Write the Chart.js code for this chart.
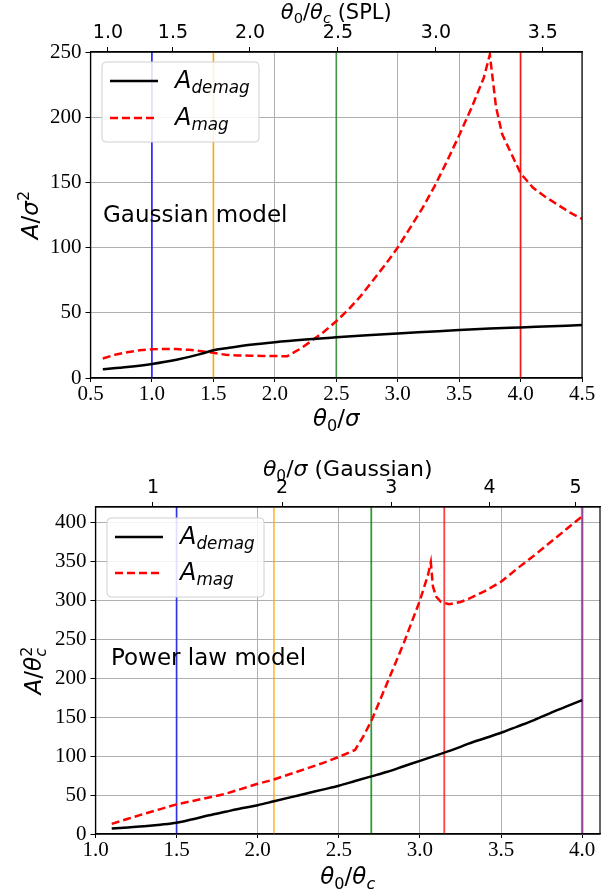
<!DOCTYPE html>
<html>
<head>
<meta charset="utf-8">
<script src="https://cdn.jsdelivr.net/npm/chart.js"></script>
<style>
  html, body { margin: 0; padding: 0; background: #fff; }
  #wrap { position: relative; width: 616px; height: 889px; }
  canvas { position: absolute; left: 0; }
  #chartOne { top: 0; }
  #chartTwo { top: 445px; }
</style>
</head>
<body>
<div id="wrap">
  <canvas id="chartOne" width="616" height="445"></canvas>
  <canvas id="chartTwo" width="616" height="444"></canvas>
</div>
<script>
// ---- Gaussian model (top panel), x = theta0/sigma
const gaussDemagX = [0.6, 0.8, 1.0, 1.2, 1.4, 1.5, 1.6, 1.8, 2.0, 2.25, 2.5, 2.75, 3.0, 3.25, 3.5, 3.75, 4.0, 4.25, 4.5];
const gaussDemag  = [6.7, 8.5, 10.8, 14, 18.5, 21.3, 22.8, 25.5, 27.5, 29.5, 31.2, 32.8, 34.2, 35.5, 36.8, 37.9, 38.8, 39.7, 40.6];
const gaussMagX = [0.6, 0.7, 0.8, 0.9, 1.0, 1.1, 1.2, 1.3, 1.4, 1.5, 1.6, 1.7, 1.8, 1.9, 2.0, 2.1, 2.2, 2.3, 2.4, 2.5, 2.6, 2.7, 2.8, 2.9, 3.0, 3.1, 3.2, 3.3, 3.4, 3.5, 3.6, 3.7, 3.75, 3.8, 3.85, 3.9, 4.0, 4.1, 4.2, 4.3, 4.4, 4.5];
const gaussMag  = [15, 17.8, 19.8, 21.2, 22, 22.3, 22.2, 21.6, 20.6, 19.3, 17.8, 17.3, 17.1, 16.9, 16.8, 16.7, 22, 28.5, 35.5, 43.5, 52.5, 63, 75, 87, 100, 115, 130, 147, 166, 186, 207, 230, 248, 208, 187, 177, 157, 146, 139, 133, 127, 122];
const gaussVLines = [1.0, 1.5, 2.5, 4.0];
const gaussVColors = ['rgba(0,0,255,0.75)', 'rgba(255,165,0,0.75)', 'rgba(0,128,0,0.6)', 'rgba(255,0,0,0.85)'];
const gaussTopPos = [0.642, 1.171, 1.798, 2.514, 3.311, 4.181];
const gaussTopLabels = ['1.0', '1.5', '2.0', '2.5', '3.0', '3.5'];

// ---- Power law model (bottom panel), x = theta0/theta_c
const plDemagX = [1.1, 1.2, 1.3, 1.4, 1.5, 1.6, 1.7, 1.8, 1.9, 2.0, 2.1, 2.2, 2.3, 2.4, 2.5, 2.6, 2.7, 2.8, 2.9, 3.0, 3.1, 3.2, 3.3, 3.4, 3.5, 3.6, 3.7, 3.8, 3.9, 4.0];
const plDemag  = [7, 8.5, 10, 12, 14.5, 19, 24, 28.5, 33, 37, 42, 47, 52, 57, 62, 68, 74, 80, 87, 94, 101, 108, 116, 123, 130, 138, 146, 155, 163.5, 172];
const plMagX = [1.1, 1.2, 1.3, 1.4, 1.5, 1.6, 1.7, 1.8, 1.9, 2.0, 2.1, 2.2, 2.3, 2.4, 2.5, 2.6, 2.65, 2.7, 2.8, 2.9, 3.0, 3.05, 3.067, 3.08, 3.1, 3.13, 3.18, 3.25, 3.3, 3.4, 3.5, 3.6, 3.7, 3.8, 3.9, 4.0];
const plMag  = [13, 19.5, 26, 32, 38, 42.5, 47, 51.5, 58, 64.5, 70, 77, 84, 91, 99, 108, 125, 145, 195, 245, 300, 333, 349, 318, 305, 298, 295, 298, 302, 312, 324, 341, 357, 374, 391, 408];
const plVLines = [1.5, 2.1, 2.7, 3.15, 4.0];
const plVColors = ['rgba(0,0,255,0.7)', 'rgba(255,165,0,0.7)', 'rgba(0,128,0,0.8)', 'rgba(255,0,0,0.75)', 'rgba(128,0,128,0.6)'];
const plTopPos = [1.354, 2.150, 2.824, 3.429, 3.960];
const plTopLabels = ['1', '2', '3', '4', '5'];

const SANS = '"DejaVu Sans"';
const SERIF = '"Liberation Serif"';

function pts(xs, ys) { return xs.map((x, i) => ({ x: x, y: ys[i] })); }

// draw a run of text pieces with sub/superscripts (mathtext-like)
function drawRuns(ctx, runs, x, y, size, angle, align) {
  let cx = 0, prevX = 0;
  const items = [];
  for (const r of runs) {
    const fs = (r.sub || r.sup) ? size * 0.7 : size;
    const font = (r.it ? 'italic ' : '') + fs + 'px ' + SANS;
    ctx.font = font;
    const w = ctx.measureText(r.t).width;
    const sx = r.stack ? prevX : cx;
    const dy = r.sub ? size * 0.22 : (r.sup ? -size * 0.4 : 0);
    items.push({ t: r.t, font: font, x: sx, dy: dy });
    prevX = sx;
    cx = Math.max(cx, sx + w);
  }
  ctx.save();
  ctx.translate(x, y);
  ctx.rotate(angle || 0);
  const off = align === 'left' ? 0 : -cx / 2;
  ctx.fillStyle = '#000';
  ctx.textBaseline = 'alphabetic';
  ctx.textAlign = 'left';
  for (const it of items) {
    ctx.font = it.font;
    ctx.fillText(it.t, off + it.x, size * 0.36 + it.dy);
  }
  ctx.restore();
}

function roundBox(ctx, x, y, w, h, r) {
  ctx.beginPath();
  ctx.moveTo(x + r, y);
  ctx.lineTo(x + w - r, y);
  ctx.arcTo(x + w, y, x + w, y + r, r);
  ctx.lineTo(x + w, y + h - r);
  ctx.arcTo(x + w, y + h, x + w - r, y + h, r);
  ctx.lineTo(x + r, y + h);
  ctx.arcTo(x, y + h, x, y + h - r, r);
  ctx.lineTo(x, y + r);
  ctx.arcTo(x, y, x + r, y, r);
  ctx.closePath();
}

const overlay = {
  id: 'overlay',
  afterDraw(chart, args, o) {
    const ctx = chart.ctx;
    const a = chart.chartArea;
    ctx.save();
    // frame
    ctx.strokeStyle = '#000';
    ctx.lineWidth = 1.2;
    ctx.strokeRect(a.left, a.top, a.right - a.left, a.bottom - a.top);
    // legend
    const L = o.legend;
    ctx.fillStyle = 'rgba(255,255,255,0.85)';
    roundBox(ctx, L.x, L.y, L.w, L.h, 4);
    ctx.fill();
    ctx.strokeStyle = '#d0d0d0';
    ctx.lineWidth = 1;
    ctx.stroke();
    ctx.lineWidth = 2.5;
    ctx.strokeStyle = '#000';
    ctx.beginPath(); ctx.moveTo(L.x + 8, L.r1); ctx.lineTo(L.x + 56, L.r1); ctx.stroke();
    ctx.strokeStyle = 'red';
    ctx.setLineDash([8, 4]);
    ctx.beginPath(); ctx.moveTo(L.x + 8, L.r2); ctx.lineTo(L.x + 56, L.r2); ctx.stroke();
    ctx.setLineDash([]);
    drawRuns(ctx, [{ t: 'A', it: true }, { t: 'demag', it: true, sub: true }], L.x + 73, L.r1 - 2, 24, 0, 'left');
    drawRuns(ctx, [{ t: 'A', it: true }, { t: 'mag', it: true, sub: true }], L.x + 73, L.r2 - 2, 24, 0, 'left');
    // model name
    ctx.fillStyle = '#000';
    ctx.font = '23px ' + SANS;
    ctx.textAlign = 'left';
    ctx.textBaseline = 'alphabetic';
    ctx.fillText(o.model.t, o.model.x, o.model.y);
    // axis titles
    const cxm = (a.left + a.right) / 2;
    drawRuns(ctx, o.topTitle, cxm, o.topY, o.topSize, 0);
    drawRuns(ctx, o.xTitle, cxm, o.xY, 23, 0);
    drawRuns(ctx, o.yTitle, o.yX, (a.top + a.bottom) / 2, 23, -Math.PI / 2);
    ctx.restore();
  }
};

function vlineSets(vals, colors, yMin, yMax) {
  return vals.map((v, i) => ({
    data: [{ x: v, y: yMin }, { x: v, y: yMax }],
    borderColor: colors[i],
    borderWidth: i === vals.length - 1 && vals.length === 5 ? 2.5 : 1.8,
    pointRadius: 0
  }));
}

function makeChart(canvas, cfg) {
  const serifTicks = { family: SERIF, size: 21, lineHeight: 1 };
  return new Chart(canvas, {
    type: 'line',
    data: {
      datasets: [
        { data: pts(cfg.demagX, cfg.demag), borderColor: '#000', borderWidth: 2.5, pointRadius: 0, cubicInterpolationMode: 'monotone' },
        { data: pts(cfg.magX, cfg.mag), borderColor: 'red', borderWidth: 2.5, borderDash: [8, 4], pointRadius: 0 }
      ].concat(vlineSets(cfg.vlines, cfg.vcolors, cfg.yMin, cfg.yMax))
    },
    options: {
      responsive: false,
      animation: false,
      events: [],
      devicePixelRatio: 1,
      layout: { autoPadding: false, padding: { left: 0, right: cfg.padRight, top: 0, bottom: 0 } },
      plugins: {
        legend: { display: false },
        tooltip: { enabled: false },
        overlay: cfg.overlay
      },
      scales: {
        x: {
          type: 'linear', position: 'bottom', min: cfg.xMin, max: cfg.xMax,
          afterFit(s) { s.height = cfg.bottomH; },
          ticks: { stepSize: 0.5, includeBounds: false, maxRotation: 0, autoSkip: false, color: '#000', padding: 2, font: serifTicks,
            callback: v => v.toFixed(1) },
          grid: { color: '#b0b0b0', lineWidth: 1, tickLength: 4, tickColor: '#000' },
          border: { color: '#000', width: 1.2 }
        },
        x2: {
          type: 'linear', position: 'top', min: cfg.xMin, max: cfg.xMax,
          afterFit(s) { s.height = cfg.topH; },
          afterBuildTicks(s) { s.ticks = cfg.topPos.map(v => ({ value: v })); },
          ticks: { maxRotation: 0, autoSkip: false, color: '#000', padding: 4, font: { family: SANS, size: 19, lineHeight: 1 },
            callback: (v, i) => cfg.topLabels[i] },
          grid: { drawOnChartArea: false, tickLength: 5, tickColor: '#000' },
          border: { color: '#000', width: 1.2 }
        },
        y: {
          type: 'linear', position: 'left', min: cfg.yMin, max: cfg.yMax,
          afterFit(s) { s.width = cfg.leftW; },
          ticks: { stepSize: 50, includeBounds: false, color: '#000', padding: 4, font: serifTicks },
          grid: { color: '#b0b0b0', lineWidth: 1, tickLength: 5, tickColor: '#000' },
          border: { color: '#000', width: 1.2 }
        }
      }
    },
    plugins: [overlay]
  });
}

makeChart(document.getElementById('chartOne'), {
  demagX: gaussDemagX, demag: gaussDemag, magX: gaussMagX, mag: gaussMag,
  vlines: gaussVLines, vcolors: gaussVColors,
  topPos: gaussTopPos, topLabels: gaussTopLabels,
  xMin: 0.5, xMax: 4.5, yMin: 0, yMax: 250,
  leftW: 90.5, topH: 52, bottomH: 67, padRight: 34,
  overlay: {
    legend: { x: 102, y: 62, w: 157, h: 80, r1: 81, r2: 118 },
    model: { t: 'Gaussian model', x: 103, y: 222 },
    topY: 11, topSize: 21, xY: 418, yX: 30,
    topTitle: [{ t: 'θ', it: true }, { t: '0', sub: true }, { t: '/' }, { t: 'θ', it: true }, { t: 'c', it: true, sub: true }, { t: ' (SPL)' }],
    xTitle: [{ t: 'θ', it: true }, { t: '0', sub: true }, { t: '/' }, { t: 'σ', it: true }],
    yTitle: [{ t: 'A', it: true }, { t: '/' }, { t: 'σ', it: true }, { t: '2', sup: true }]
  }
});

makeChart(document.getElementById('chartTwo'), {
  demagX: plDemagX, demag: plDemag, magX: plMagX, mag: plMag,
  vlines: plVLines, vcolors: plVColors,
  topPos: plTopPos, topLabels: plTopLabels,
  xMin: 1.0, xMax: 4.11, yMin: 0, yMax: 420,
  leftW: 95.5, topH: 62, bottomH: 55, padRight: 16,
  overlay: {
    legend: { x: 107, y: 73, w: 157, h: 79, r1: 92, r2: 128 },
    model: { t: 'Power law model', x: 111, y: 220 },
    topY: 23, topSize: 22, xY: 431, yX: 33,
    topTitle: [{ t: 'θ', it: true }, { t: '0', sub: true }, { t: '/' }, { t: 'σ', it: true }, { t: ' (Gaussian)' }],
    xTitle: [{ t: 'θ', it: true }, { t: '0', sub: true }, { t: '/' }, { t: 'θ', it: true }, { t: 'c', it: true, sub: true }],
    yTitle: [{ t: 'A', it: true }, { t: '/' }, { t: 'θ', it: true }, { t: 'c', it: true, sub: true }, { t: '2', sup: true, stack: true }]
  }
});
</script>
</body>
</html>
